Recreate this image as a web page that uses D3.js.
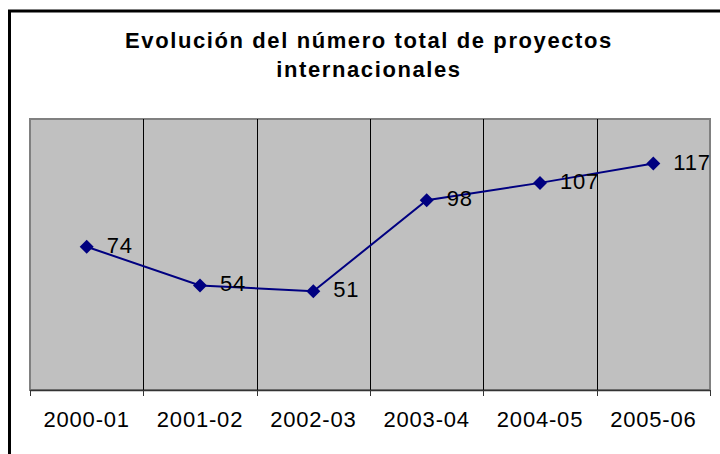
<!DOCTYPE html>
<html>
<head>
<meta charset="utf-8">
<script src="https://cdn.jsdelivr.net/npm/d3@7/dist/d3.min.js"></script>
<style>
  html, body { margin: 0; padding: 0; background: #fff; }
  svg { display: block; }
  text { font-family: "Liberation Sans", Arial, sans-serif; fill: #000; }
</style>
</head>
<body>
<script>
// Academic years and total number of international projects
const years = ["2000-01", "2001-02", "2002-03", "2003-04", "2004-05", "2005-06"];
const projects = [74, 54, 51, 98, 107, 117];
const titleLines = ["Evolución del número total de proyectos", "internacionales"];
const yDomain = [0, 140];

const W = 720, H = 454;
const plot = { left: 30, top: 119, right: 710, bottom: 390 };

const svg = d3.select("body").append("svg")
  .attr("width", W).attr("height", H);

// outer chart frame (extends past the right and bottom edges)
svg.append("rect")
  .attr("x", 9.5).attr("y", 11)
  .attr("width", 720).attr("height", 460)
  .attr("fill", "#fff").attr("stroke", "#000").attr("stroke-width", 3);

// title
svg.append("g").selectAll("text")
  .data(titleLines)
  .join("text")
  .attr("x", 369)
  .attr("y", (d, i) => 48 + i * 29)
  .attr("text-anchor", "middle")
  .style("font-size", "22px")
  .style("font-weight", "bold")
  .style("letter-spacing", "1.6px")
  .text(d => d);

const x = d3.scaleBand().domain(years).range([plot.left, plot.right]).padding(0);
const y = d3.scaleLinear().domain(yDomain).range([plot.bottom, plot.top]);

// plot area background
svg.append("rect")
  .attr("x", plot.left).attr("y", plot.top)
  .attr("width", plot.right - plot.left).attr("height", plot.bottom - plot.top)
  .attr("fill", "#C0C0C0").attr("stroke", "#808080").attr("stroke-width", 2);

// vertical gridlines between categories
svg.append("g").selectAll("line")
  .data(years.slice(1))
  .join("line")
  .attr("x1", d => Math.round(x(d)) + 0.5).attr("x2", d => Math.round(x(d)) + 0.5)
  .attr("y1", plot.top).attr("y2", plot.bottom)
  .attr("stroke", "#000").attr("stroke-width", 1);

// category axis
const xAxis = d3.axisBottom(x).tickSize(0).tickPadding(0);
const gx = svg.append("g").attr("transform", `translate(0,${plot.bottom})`).call(xAxis);
gx.select(".domain").remove();
gx.selectAll(".tick text")
  .attr("y", 37)
  .attr("dy", 0)
  .style("font-size", "22px")
  .style("letter-spacing", "0.8px")
  .style("font-family", "'Liberation Sans', Arial, sans-serif")
  .attr("fill", "#000");

svg.append("line")
  .attr("x1", plot.left).attr("x2", plot.right)
  .attr("y1", plot.bottom + 0.5).attr("y2", plot.bottom + 0.5)
  .attr("stroke", "#333").attr("stroke-width", 1.5);

// tick marks on category boundaries
const boundaries = years.map(d => x(d)).concat([plot.right]);
svg.append("g").selectAll("line")
  .data(boundaries)
  .join("line")
  .attr("x1", d => Math.round(d) + 0.5).attr("x2", d => Math.round(d) + 0.5)
  .attr("y1", plot.bottom).attr("y2", plot.bottom + 6)
  .attr("stroke", "#333").attr("stroke-width", 1);

const cx = d => x(d) + x.bandwidth() / 2;
const data = years.map((d, i) => ({ year: d, value: projects[i] }));

// series line
svg.append("path")
  .datum(data)
  .attr("fill", "none")
  .attr("stroke", "#000080")
  .attr("stroke-width", 2)
  .attr("d", d3.line().x(d => cx(d.year)).y(d => y(d.value)));

// diamond markers
svg.append("g").selectAll("path")
  .data(data)
  .join("path")
  .attr("transform", d => `translate(${cx(d.year)},${y(d.value)}) rotate(45)`)
  .attr("d", d3.symbol().type(d3.symbolSquare).size(98))
  .attr("fill", "#000080");

// value labels
svg.append("g").selectAll("text")
  .data(data)
  .join("text")
  .attr("x", d => cx(d.year) + 20)
  .attr("y", d => y(d.value) + 6)
  .style("font-size", "22px")
  .style("letter-spacing", "0.8px")
  .text(d => d.value);
</script>
</body>
</html>
